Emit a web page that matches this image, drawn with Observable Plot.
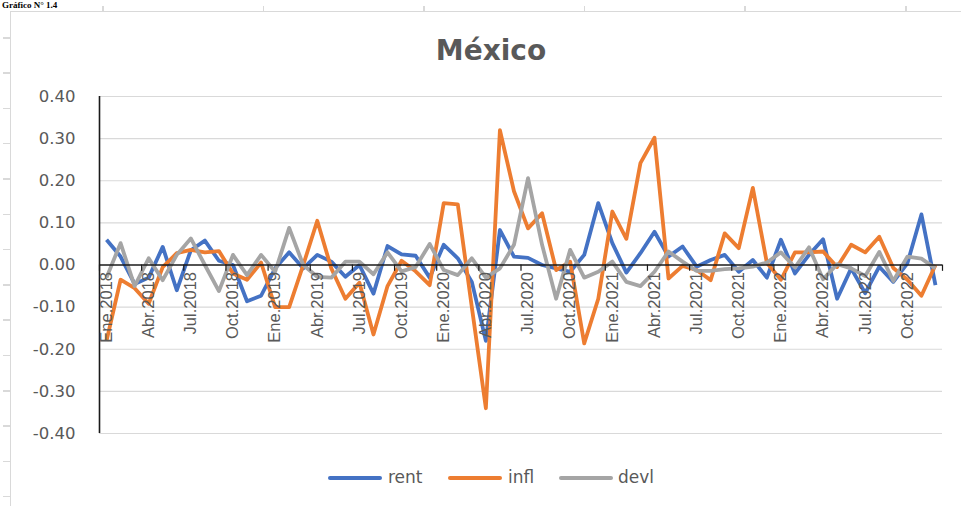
<!DOCTYPE html>
<html>
<head>
<meta charset="utf-8">
<script src="https://cdn.jsdelivr.net/npm/d3@7"></script>
<script src="https://cdn.jsdelivr.net/npm/@observablehq/plot@0.6"></script>
<style>
  html, body { margin: 0; padding: 0; background: #fff; }
  #wrap { position: relative; width: 961px; height: 506px; overflow: hidden; background: #fff; }
  #hdr { position: absolute; left: 2px; top: 0px; font: bold 9px "Liberation Serif", serif; line-height: 10px; color: #000; white-space: nowrap; }
  #frame { position: absolute; left: 10px; top: 11px; right: -10px; bottom: -10px; border-left: 1.5px solid #d9d9d9; border-top: 1.5px solid #d9d9d9; }
  .tk { position: absolute; background: #d9d9d9; }
  #title { position: absolute; left: 341px; width: 300px; top: 37px; text-align: center; font: bold 28px "DejaVu Sans", sans-serif; line-height: 28px; color: #595959; }
  #chart { position: absolute; left: 0; top: 86px; }
  .lg-sw { position: absolute; height: 4px; top: 476px; border-radius: 2px; }
  .lg-tx { position: absolute; top: 467px; font: 17px "DejaVu Sans", sans-serif; line-height: 20px; color: #595959; }
</style>
</head>
<body>
<div id="wrap">
  <div id="hdr">Gráfico N° 1.4</div>
  <div id="frame"></div>
  <div id="title">México</div>
  <div id="chart"></div>
</div>
<script>
// ---- data ----
const monthNames = ["Ene","Feb","Mar","Abr","May","Jun","Jul","Ago","Sep","Oct","Nov","Dic"];
const years = [2018, 2019, 2020, 2021, 2022];
const seriesNames = ["rent", "infl", "devl"];
const seriesColors = ["#4472C4", "#ED7D31", "#A5A5A5"];

const rent = [
  0.060, 0.020, -0.045, -0.030, 0.043, -0.060, 0.035, 0.058, 0.010, 0.000, -0.086, -0.073,
  -0.008, 0.030, -0.008, 0.024, 0.008, -0.028, 0.000, -0.068, 0.045, 0.025, 0.022, -0.030,
  0.048, 0.016, -0.040, -0.180, 0.083, 0.020, 0.017, 0.000, -0.008, -0.016, 0.024, 0.147,
  0.052, -0.018, 0.028, 0.079, 0.020, 0.044, -0.004, 0.012, 0.024, -0.016, 0.012, -0.030,
  0.060, -0.020, 0.024, 0.061, -0.080, -0.008, -0.067, -0.004, -0.040, 0.004, 0.120, -0.048
];
const infl = [
  -0.180, -0.035, -0.055, -0.092, -0.005, 0.028, 0.036, 0.030, 0.033, -0.020, -0.035, 0.006,
  -0.100, -0.100, 0.000, 0.105, -0.008, -0.080, -0.042, -0.165, -0.050, 0.010, -0.015, -0.048,
  0.147, 0.144, -0.100, -0.340, 0.320, 0.175, 0.087, 0.123, -0.012, 0.008, -0.186, -0.080,
  0.127, 0.062, 0.242, 0.302, -0.032, -0.002, -0.012, -0.036, 0.075, 0.040, 0.183, 0.005,
  -0.035, 0.030, 0.030, 0.032, -0.005, 0.048, 0.030, 0.067, -0.007, -0.035, -0.073, 0.000
];
const devl = [
  -0.030, 0.052, -0.050, 0.016, -0.036, 0.024, 0.063, 0.000, -0.062, 0.024, -0.024, 0.024,
  -0.016, 0.088, 0.000, -0.028, -0.030, 0.008, 0.008, -0.022, 0.030, -0.015, -0.005, 0.050,
  -0.012, -0.024, 0.016, -0.030, -0.008, 0.048, 0.206, 0.048, -0.080, 0.036, -0.030, -0.016,
  0.008, -0.040, -0.050, -0.016, 0.032, 0.008, -0.014, -0.014, -0.010, -0.008, -0.004, 0.006,
  0.030, -0.006, 0.042, -0.034, 0.002, -0.008, -0.026, 0.031, -0.038, 0.020, 0.015, -0.008
];
const yTicks = [-0.4, -0.3, -0.2, -0.1, 0, 0.1, 0.2, 0.3, 0.4];
const labelMonths = ["Ene", "Abr", "Jul", "Oct"];

// ---- build tables ----
const categories = [];
years.forEach(y => monthNames.forEach(m => categories.push(m + "." + y)));
const table = categories.map((c, i) => ({i, cat: c, rent: rent[i], infl: infl[i], devl: devl[i]}));
const xLabels = table.filter(d => labelMonths.includes(d.cat.split(".")[0]));
const boundaries = d3.range(0, categories.length + 1, 3).map(k => k - 0.5);

// ---- page decorations (frame ticks) ----
const wrap = document.getElementById("wrap");
for (let k = 0; k < 14; k++) {
  const t = document.createElement("div");
  t.className = "tk";
  Object.assign(t.style, {left: "3px", top: (37 + 35.3 * k) + "px", width: "7px", height: "1.5px"});
  wrap.appendChild(t);
}
for (let k = 0; k < 6; k++) {
  const t = document.createElement("div");
  t.className = "tk";
  Object.assign(t.style, {left: (102 + 160.6 * k) + "px", top: "6px", width: "1.5px", height: "5px"});
  wrap.appendChild(t);
}

// ---- chart ----
const chart = Plot.plot({
  width: 961,
  height: 367,
  marginTop: 10,
  marginBottom: 20,
  marginLeft: 99,
  marginRight: 19,
  style: {fontFamily: "DejaVu Sans", fontSize: "16.5px", color: "#595959", background: "transparent", overflow: "visible"},
  x: {domain: [-0.5, categories.length - 0.5], axis: null},
  y: {domain: [-0.4, 0.4], axis: null},
  marks: [
    Plot.ruleY(yTicks.filter(v => v !== 0), {stroke: "#d9d9d9", strokeWidth: 1.2}),
    Plot.axisY(yTicks, {tickSize: 0, tickPadding: 24, tickFormat: d => d.toFixed(2), label: null, fill: "#595959", fontSize: 16.5}),
    ...seriesNames.map((name, s) => Plot.line(table, {
      x: "i", y: name, stroke: seriesColors[s], strokeWidth: 3.8,
      strokeLinejoin: "round", strokeLinecap: "butt"
    })),
    Plot.ruleY([0], {stroke: "#1a1a1a", strokeWidth: 1.4}),
    Plot.ruleX([-0.5], {y1: -0.4, y2: 0.4, stroke: "#1a1a1a", strokeWidth: 1.6}),
    Plot.ruleX(boundaries, {y1: 0, y2: -0.015, stroke: "#1a1a1a", strokeWidth: 1.2}),
    Plot.text(xLabels, {
      x: "i", y: () => 0, text: "cat", rotate: -90, textAnchor: "end", dy: 7,
      fontFamily: "Liberation Sans", fontSize: 16.5, fill: "#595959"
    })
  ]
});
document.getElementById("chart").appendChild(chart);

// ---- legend ----
const legendPos = [[328, 388], [448, 508], [559, 618]];
seriesNames.forEach((name, s) => {
  const sw = document.createElement("div");
  sw.className = "lg-sw";
  Object.assign(sw.style, {left: legendPos[s][0] + "px", width: "54px", background: seriesColors[s]});
  wrap.appendChild(sw);
  const tx = document.createElement("div");
  tx.className = "lg-tx";
  tx.style.left = legendPos[s][1] + "px";
  tx.textContent = name;
  wrap.appendChild(tx);
});
</script>
</body>
</html>
